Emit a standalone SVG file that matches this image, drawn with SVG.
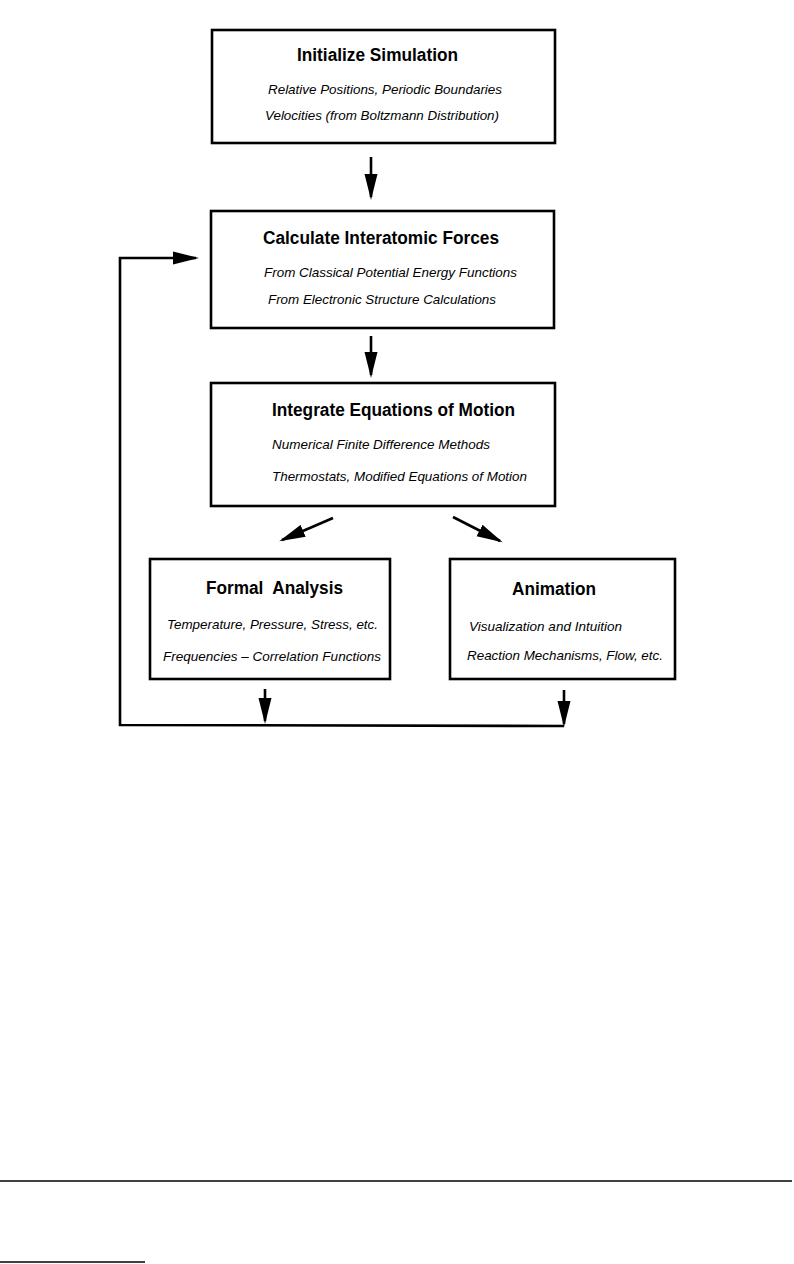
<svg xmlns="http://www.w3.org/2000/svg" width="794" height="1264" viewBox="0 0 794 1264">
<style>
.box{fill:none;stroke:#000;stroke-width:2.6}
.t{font-family:"Liberation Sans",Arial,sans-serif;font-weight:bold;font-size:17.5px;fill:#000}
.s{font-family:"Liberation Sans",Arial,sans-serif;font-style:italic;font-size:13px;fill:#000}
.c{fill:none;stroke:#000;stroke-width:2.6}
.rule{stroke:#000;stroke-width:1.6}
</style>
<defs>
<marker id="ah" markerUnits="userSpaceOnUse" markerWidth="26" markerHeight="14" refX="23" refY="7" orient="auto">
<path d="M0,0.5 L26,7 L0,13.5 Z" fill="#000"/>
</marker>
</defs>
<rect width="794" height="1264" fill="#fff"/>
<g id="n1">
<rect class="box" x="212" y="30" width="343" height="113"/>
<text class="t" x="297" y="61" textLength="161" lengthAdjust="spacingAndGlyphs">Initialize Simulation</text>
<text class="s" x="268" y="94" textLength="234" lengthAdjust="spacingAndGlyphs">Relative Positions, Periodic Boundaries</text>
<text class="s" x="265" y="120" textLength="234" lengthAdjust="spacingAndGlyphs">Velocities (from Boltzmann Distribution)</text>
</g>
<g id="n2">
<rect class="box" x="211" y="211" width="343" height="117"/>
<text class="t" x="263" y="244" textLength="236" lengthAdjust="spacingAndGlyphs">Calculate Interatomic Forces</text>
<text class="s" x="264" y="277" textLength="253" lengthAdjust="spacingAndGlyphs">From Classical Potential Energy Functions</text>
<text class="s" x="268" y="304" textLength="228" lengthAdjust="spacingAndGlyphs">From Electronic Structure Calculations</text>
</g>
<g id="n3">
<rect class="box" x="211" y="383" width="344" height="123"/>
<text class="t" x="272" y="416" textLength="243" lengthAdjust="spacingAndGlyphs">Integrate Equations of Motion</text>
<text class="s" x="272" y="449" textLength="218" lengthAdjust="spacingAndGlyphs">Numerical Finite Difference Methods</text>
<text class="s" x="272" y="481" textLength="255" lengthAdjust="spacingAndGlyphs">Thermostats, Modified Equations of Motion</text>
</g>
<g id="n4">
<rect class="box" x="150" y="559" width="240" height="120"/>
<text class="t" x="206" y="594" textLength="137" lengthAdjust="spacingAndGlyphs" xml:space="preserve">Formal  Analysis</text>
<text class="s" x="167" y="629" textLength="211" lengthAdjust="spacingAndGlyphs">Temperature, Pressure, Stress, etc.</text>
<text class="s" x="163" y="661" textLength="218" lengthAdjust="spacingAndGlyphs">Frequencies – Correlation Functions</text>
</g>
<g id="n5">
<rect class="box" x="450" y="559" width="225" height="120"/>
<text class="t" x="512" y="595" textLength="84" lengthAdjust="spacingAndGlyphs">Animation</text>
<text class="s" x="469" y="631" textLength="153" lengthAdjust="spacingAndGlyphs">Visualization and Intuition</text>
<text class="s" x="467" y="660" textLength="196" lengthAdjust="spacingAndGlyphs">Reaction Mechanisms, Flow, etc.</text>
</g>
<g id="connectors">
<line class="c" x1="371" y1="157" x2="371" y2="197" marker-end="url(#ah)"/>
<line class="c" x1="371" y1="336" x2="371" y2="375" marker-end="url(#ah)"/>
<line class="c" x1="333" y1="518" x2="282" y2="540" marker-end="url(#ah)"/>
<line class="c" x1="453" y1="517" x2="500" y2="541" marker-end="url(#ah)"/>
<line class="c" x1="265" y1="689" x2="265" y2="721" marker-end="url(#ah)"/>
<line class="c" x1="564" y1="690" x2="564" y2="724" marker-end="url(#ah)"/>
<path class="c" d="M564,726 L120,725 L120,258 L196,258" marker-end="url(#ah)"/>
</g>
<line class="rule" x1="0" y1="1181" x2="792" y2="1181"/>
<line class="rule" x1="0" y1="1262" x2="145" y2="1262"/>
</svg>
